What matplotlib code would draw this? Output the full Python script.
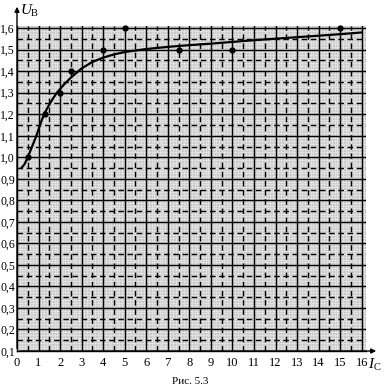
import numpy as np
import matplotlib
matplotlib.use("Agg")
import matplotlib.pyplot as plt

plt.rcParams['font.family'] = ['Liberation Serif', 'DejaVu Serif']

# measured points
pts_x = [0.5, 1.3, 2.0, 2.5, 4.0, 5.0, 7.5, 10.0, 15.0]
pts_y = [1.0, 1.2, 1.3, 1.4, 1.5, 1.6, 1.5, 1.5, 1.6]

# hand-drawn fit curve
curve_x = [0.2, 0.35, 0.5, 0.7, 0.9, 1.05, 1.25, 1.5, 1.65, 1.85, 2.2, 2.5, 3.0,
           3.5, 4.0, 4.5, 5.0, 6.0, 7.0, 8.0, 9.0, 10.0, 11.0, 12.0, 13.0, 14.0, 15.0, 16.0]
curve_y = [0.95, 0.968, 1.0, 1.05, 1.1, 1.145, 1.2, 1.245, 1.27, 1.3, 1.34, 1.37, 1.413,
           1.443, 1.463, 1.478, 1.489, 1.503, 1.513, 1.521, 1.528, 1.536, 1.544, 1.551,
           1.558, 1.565, 1.572, 1.58]

xticks = list(range(0, 17))
yticks = [round(0.1 * i, 1) for i in range(1, 17)]

fig = plt.figure(figsize=(3.86, 3.90), dpi=100)
ax = fig.add_axes([17/386, 39/390, 349/386, 325/390])
ax.set_xlim(0, 16.2)
ax.set_ylim(0.1, 1.61)
ax.set_facecolor('#cacaca')

# fine texture of the graph paper
for v in np.arange(0, 16.2, 0.125):
    ax.axvline(v, color='#e8e8e8', lw=0.5, zorder=0.5)
for v in np.arange(0.1, 1.61, 0.0125):
    ax.axhline(v, color='#e8e8e8', lw=0.5, zorder=0.5)

for v in xticks[1:]:
    ax.axvline(v, color='black', lw=1.0, zorder=1)
for v in np.arange(0.5, 16.2, 1.0):
    ax.axvline(v, color='black', lw=1.0, ls=(0, (4, 2.6)), zorder=1)
for v in yticks[1:]:
    ax.axhline(v, color='black', lw=1.0, zorder=1)
for v in np.arange(0.15, 1.6, 0.1):
    ax.axhline(v, color='black', lw=1.0, ls=(0, (4, 2.6)), zorder=1)

ax.plot(curve_x, curve_y, color='black', lw=1.6, zorder=3)
ax.plot(pts_x, pts_y, 'o', color='black', ms=3.5, zorder=4, clip_on=False)

for s in ['top', 'right']:
    ax.spines[s].set_visible(False)
for s in ['left', 'bottom']:
    ax.spines[s].set_linewidth(1.0)

ax.set_xticks(xticks)
ax.set_xticklabels([str(t) for t in xticks])
ax.set_yticks(yticks)
ax.set_yticklabels([('%.1f' % t).replace('.', ',') for t in yticks])
ax.tick_params(axis='x', length=0, labelsize=9, pad=4)
ax.tick_params(axis='y', length=0, labelsize=8.5, pad=1.5)

# axis arrows
ax.annotate('', xy=(17/386, 1 - 4/390), xytext=(17/386, 1 - 351/390),
            xycoords='figure fraction',
            arrowprops=dict(arrowstyle='-|>', color='black', lw=1.0, mutation_scale=7))
ax.annotate('', xy=(379/386, 1 - 351/390), xytext=(17/386, 1 - 351/390),
            xycoords='figure fraction',
            arrowprops=dict(arrowstyle='-|>', color='black', lw=1.0, mutation_scale=7))

fig.text(21/386, 1 - 11/390, 'U', fontsize=11, fontstyle='italic', va='center', ha='left')
fig.text(31/386, 1 - 14/390, 'В', fontsize=7.5, va='center', ha='left')
fig.text(368/386, 1 - 364/390, 'I', fontsize=11, fontstyle='italic', va='center', ha='left')
fig.text(374/386, 1 - 368/390, 'С', fontsize=7.5, va='center', ha='left')
fig.text(190/386, 1 - 381/390, 'Рис. 5.3', fontsize=8, va='center', ha='center')

fig.savefig('out.png', dpi=100)
